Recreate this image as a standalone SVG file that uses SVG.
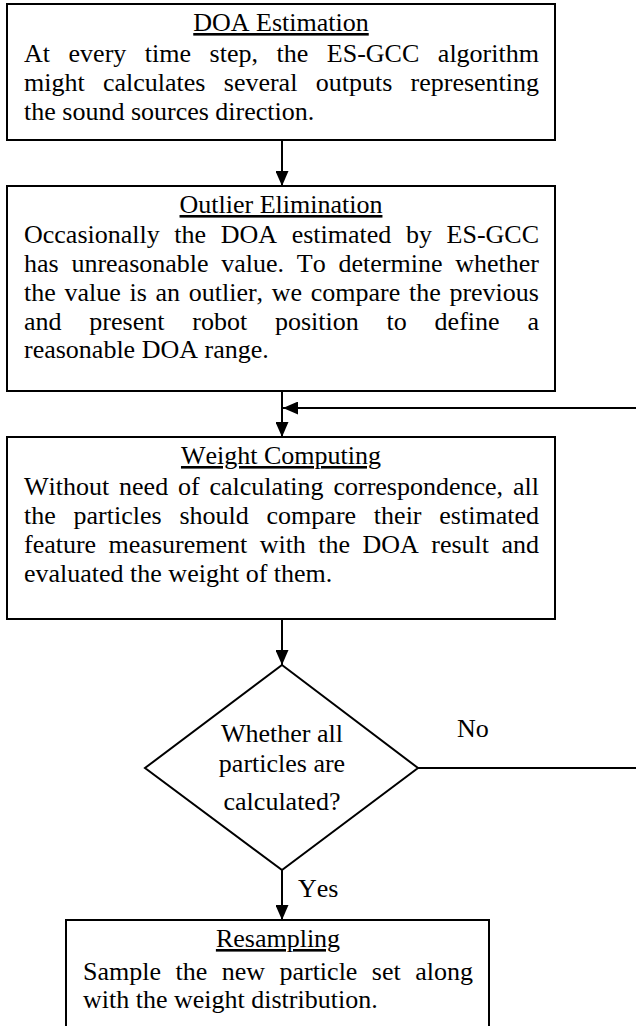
<svg xmlns="http://www.w3.org/2000/svg" width="636" height="1026" viewBox="0 0 636 1026">
<style>
text{font-family:"Liberation Serif","Times New Roman",serif;font-size:26px;fill:#000;font-kerning:none}
.t{text-anchor:middle;text-decoration:underline}
.c{text-anchor:middle}
.box{fill:#fff;stroke:#000;stroke-width:2}
.ln{fill:none;stroke:#000;stroke-width:2}
</style>
<defs>
<marker id="ah" markerUnits="userSpaceOnUse" markerWidth="15" markerHeight="13" refX="15" refY="6.5" orient="auto">
<path d="M0,0 L15,6.5 L0,13 z" fill="#000"/>
</marker>
</defs>
<rect width="636" height="1026" fill="#fff"/>
<g id="connectors">
<line class="ln" x1="282" y1="140" x2="282" y2="186" marker-end="url(#ah)"/>
<line class="ln" x1="282" y1="391" x2="282" y2="437" marker-end="url(#ah)"/>
<line class="ln" x1="636" y1="408" x2="283" y2="408" marker-end="url(#ah)"/>
<line class="ln" x1="282" y1="619" x2="282" y2="665" marker-end="url(#ah)"/>
<line class="ln" x1="418" y1="768" x2="636" y2="768"/>
<line class="ln" x1="282" y1="870" x2="282" y2="920" marker-end="url(#ah)"/>
<text x="457" y="737">No</text>
<text x="298" y="897">Yes</text>
</g>
<g id="doa">
<rect class="box" x="7" y="4" width="548" height="136"/>
<text class="t" x="281" y="31">DOA Estimation</text>
<text x="24" y="62" style="word-spacing:12.05px">At every time step, the ES-GCC algorithm</text>
<text x="24" y="91" style="word-spacing:11.8px">might calculates several outputs representing</text>
<text x="24" y="120">the sound sources direction.</text>
</g>
<g id="outlier">
<rect class="box" x="7" y="186" width="548" height="205"/>
<text class="t" x="281" y="213">Outlier Elimination</text>
<text x="24" y="243" style="word-spacing:8.12px">Occasionally the DOA estimated by ES-GCC</text>
<text x="24" y="272" style="word-spacing:6.25px">has unreasonable value. To determine whether</text>
<text x="24" y="301" style="word-spacing:2.19px">the value is an outlier, we compare the previous</text>
<text x="24" y="330" style="word-spacing:21.32px">and present robot position to define a</text>
<text x="24" y="358">reasonable DOA range.</text>
</g>
<g id="weight">
<rect class="box" x="7" y="437" width="548" height="182"/>
<text class="t" x="281" y="464">Weight Computing</text>
<text x="24" y="495" style="word-spacing:3.36px">Without need of calculating correspondence, all</text>
<text x="24" y="524" style="word-spacing:11.3px">the particles should compare their estimated</text>
<text x="24" y="553" style="word-spacing:5.93px">feature measurement with the DOA result and</text>
<text x="24" y="582">evaluated the weight of them.</text>
</g>
<g id="decision">
<polygon class="box" points="282,665 418,768 282,870 145,768"/>
<text class="c" x="282" y="742">Whether all</text>
<text class="c" x="282" y="772">particles are</text>
<text class="c" x="282" y="810">calculated?</text>
</g>
<g id="resampling">
<rect class="box" x="66" y="920" width="423" height="130"/>
<text class="t" x="278" y="947">Resampling</text>
<text x="83" y="980" style="word-spacing:7.96px">Sample the new particle set along</text>
<text x="83" y="1008">with the weight distribution.</text>
</g>
</svg>
